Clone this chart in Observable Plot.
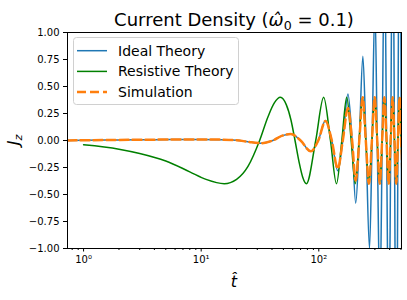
<!DOCTYPE html>
<html><head><meta charset="utf-8">
<script src="https://cdn.jsdelivr.net/npm/d3@7"></script>
<script src="https://cdn.jsdelivr.net/npm/@observablehq/plot@0.6"></script>
<style>
body{margin:0;background:#fff;}
svg{font-family:"DejaVu Sans";}
</style></head><body><div id="chart"></div>
<script>
// ---- data ----
const idealT = [0.73, 1, 2, 4, 7, 10, 15, 20, 25, 32, 40.6, 49, 57.8, 70, 85.5, 99, 114, 129, 145, 160, 177, 192, 206, 221, 237, 252, 270, 284, 300, 314, 331, 346, 362, 377, 394, 409, 425, 440, 456, 471, 487, 503, 518];
const idealJ = [0, 0.002, 0.005, 0.008, 0.01, 0.01, 0.008, 0.003, -0.012, -0.025, 0, 0.045, 0.06, 0, -0.10, 0, 0.185, 0, -0.28, 0, 0.43, 0, -0.58, 0, 0.78, 0, -1.0, 0, 1.25, 0, -1.5, 0, 1.8, 0, -2.1, 0, 2.4, 0, -2.8, 0, 3.1, 0, -3.5];

const resT = [1, 2, 3, 5, 8, 11, 15.7, 20, 25, 31.4, 37, 42, 47.1, 53, 58, 62.8, 68, 73, 78.5, 94.2, 110, 125.7, 141.4, 157, 172.8, 188.5, 204.2, 220, 235.6, 251, 267, 283, 298.5, 314, 330, 345.6, 361.3, 377, 392.7, 408, 424, 440, 455.5, 471, 487, 502, 518];
const resJ = [-0.04, -0.08, -0.12, -0.19, -0.29, -0.36, -0.40, -0.36, -0.24, 0, 0.22, 0.35, 0.40, 0.33, 0.19, 0, -0.20, -0.34, -0.40, 0, 0.40, 0, -0.40, 0, 0.40, 0, -0.40, 0, 0.40, 0, -0.40, 0, 0.40, 0, -0.40, 0, 0.40, 0, -0.40, 0, 0.40, 0, -0.40, 0, 0.40, 0, -0.40];

const simT = [0.73, 1, 2, 4, 7, 10, 15, 20, 25, 32, 40.6, 49, 57.8, 70, 85.5, 99, 114, 129, 145, 160, 177, 192, 206, 221, 236, 251, 267, 283, 298.5, 314, 330, 345.6, 361.3, 377, 392.7, 408, 424, 440, 455.5, 471, 487, 502, 518];
const simJ = [0, 0.002, 0.005, 0.008, 0.01, 0.01, 0.008, 0.003, -0.012, -0.025, 0, 0.045, 0.06, 0, -0.10, 0, 0.18, 0, -0.26, 0, 0.30, 0, -0.37, 0, 0.40, 0, -0.40, 0, 0.40, 0, -0.40, 0, 0.40, 0, -0.40, 0, 0.40, 0, -0.40, 0, 0.40, 0, -0.40];

const seriesNames = ["Ideal Theory", "Resistive Theory", "Simulation"];
const seriesColors = ["#1f77b4", "#008000", "#ff7f0e"];
const yTicks = [-1, -0.75, -0.5, -0.25, 0, 0.25, 0.5, 0.75, 1];
const xMajor = [1, 10, 100];
const xMajorLabels = ["10⁰", "10¹", "10²"];
const xMinor = [0.8, 0.9, 2, 3, 4, 5, 6, 7, 8, 9, 20, 30, 40, 50, 60, 70, 80, 90, 200, 300, 400, 500];

const ideal = idealT.map((t, i) => ({t, j: idealJ[i]}));
const res = resT.map((t, i) => ({t, j: resJ[i]}));
const sim = simT.map((t, i) => ({t, j: simJ[i]}));

const plot = Plot.plot({
  width: 407, height: 300,
  marginLeft: 67, marginRight: 6, marginTop: 32, marginBottom: 52,
  style: {fontFamily: "DejaVu Sans", fontSize: "10px", color: "#000", background: "#fff"},
  x: {type: "log", domain: [0.73, 505]},
  y: {domain: [-1, 1]},
  marks: [
    Plot.line(ideal, {x: "t", y: "j", stroke: seriesColors[0], strokeWidth: 1.5, curve: "monotone-x", clip: true}),
    Plot.line(res, {x: "t", y: "j", stroke: seriesColors[1], strokeWidth: 1.5, curve: "monotone-x", clip: true}),
    Plot.line(sim, {x: "t", y: "j", stroke: seriesColors[2], strokeWidth: 2.5, strokeDasharray: "9,4", curve: "monotone-x", clip: true}),
    Plot.frame({stroke: "#000", strokeWidth: 1}),
    Plot.axisY({ticks: yTicks, tickSize: 4, tickPadding: 4, tickFormat: d => d.toFixed(2).replace("-", "−"), label: null}),
    Plot.axisX({ticks: xMajor, tickSize: 3.5, tickPadding: 3.5, tickFormat: d => xMajorLabels[xMajor.indexOf(d)], label: null}),
    Plot.axisX({ticks: xMinor, tickSize: 2, tickFormat: () => "", label: null})
  ]
});

const svg = d3.select(plot);
const cx = 234;
// title
const title = svg.append("text").attr("x", cx).attr("y", 26).attr("text-anchor", "middle").attr("font-size", 18).attr("fill", "#000");
title.append("tspan").text("Current Density (");
title.append("tspan").attr("font-style", "italic").text("ω̂");
title.append("tspan").attr("font-size", 12.6).attr("dy", 3.5).text("0");
title.append("tspan").attr("dy", -3.5).text(" = 0.1)");
// x label
svg.append("text").attr("x", cx).attr("y", 287).attr("text-anchor", "middle").attr("font-size", 16).attr("font-style", "italic").text("t̂");
// y label
const yl = svg.append("text").attr("transform", "translate(19,140) rotate(-90)").attr("text-anchor", "middle").attr("font-size", 16);
yl.append("tspan").attr("font-style", "italic").text("J");
yl.append("tspan").attr("font-style", "italic").attr("font-size", 11.2).attr("dy", 3).text("z");
// legend
const lg = svg.append("g").attr("text-anchor", "start");
lg.append("rect").attr("x", 73.5).attr("y", 37.5).attr("width", 165).attr("height", 67).attr("rx", 3)
  .attr("fill", "#fff").attr("fill-opacity", 0.8).attr("stroke", "#d0d0d0");
seriesNames.forEach((s, i) => {
  const y = 50.7 + i * 20.7;
  lg.append("line").attr("x1", 77).attr("x2", 107).attr("y1", y).attr("y2", y)
    .attr("stroke", seriesColors[i]).attr("stroke-width", i === 2 ? 2.5 : 1.5)
    .attr("stroke-dasharray", i === 2 ? "9,4" : null);
  lg.append("text").attr("x", 118).attr("y", y + 5).attr("text-anchor", "start").attr("font-size", 14).attr("fill", "#000").text(s);
});

document.getElementById("chart").appendChild(plot);
</script>
</body></html>
